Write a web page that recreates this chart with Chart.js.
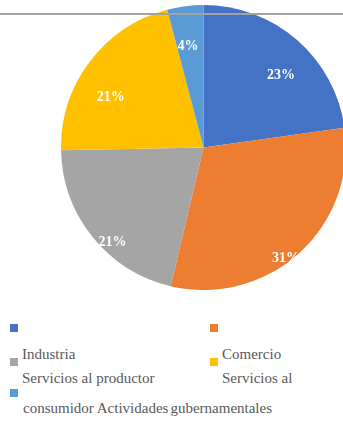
<!DOCTYPE html>
<html>
<head>
<meta charset="utf-8">
<script src="https://cdn.jsdelivr.net/npm/chart.js@4"></script>
<style>
  html, body { margin: 0; padding: 0; background: #fff; }
  body { width: 343px; height: 421px; overflow: hidden; position: relative; font-family: "Liberation Serif", "Times New Roman", serif; }
  #wrap { position: absolute; left: 61px; top: 5px; width: 285px; height: 285px; }
  #rule { position: absolute; left: 0; top: 12.5px; width: 343px; height: 2.5px; background: #a3a3a3; }
  .sw { position: absolute; width: 8px; height: 8px; }
  .tx { position: absolute; font-size: 15px; line-height: 15px; color: #595959; white-space: nowrap; }
</style>
</head>
<body>
<div id="wrap"><canvas id="c" width="285" height="285"></canvas></div>
<div id="rule"></div>
<div id="legend"></div>
<script>
const categories = ["Industria", "Comercio", "Servicios al productor", "Servicios al consumidor", "Actividades gubernamentales"];
const values = [22.8, 30.9, 21.0, 21.2, 4.1];
const percentLabels = ["23%", "31%", "21%", "21%", "4%"];

const colors = ["#4472C4", "#ED7D31", "#A5A5A5", "#FFC000", "#5B9BD5"];
// label placement tweaks (angle offset in degrees, radius fraction)
const labelAngleOffset = [5.9, 5.6, -7.2, -8.7, -1.3];
const labelRadiusFrac = [0.745, 0.97, 0.92, 0.74, 0.72];
const LABEL_FONT = 'bold 14px "Liberation Serif"';

const labelPlugin = {
  id: 'pctLabels',
  afterDatasetsDraw(chart) {
    const ctx = chart.ctx;
    const meta = chart.getDatasetMeta(0);
    ctx.save();
    ctx.font = LABEL_FONT;
    ctx.fillStyle = '#ffffff';
    ctx.textAlign = 'center';
    ctx.textBaseline = 'middle';
    meta.data.forEach((arc, i) => {
      const p = arc.getProps(['x', 'y', 'startAngle', 'endAngle', 'outerRadius'], true);
      const mid = (p.startAngle + p.endAngle) / 2 + labelAngleOffset[i] * Math.PI / 180;
      const r = p.outerRadius * labelRadiusFrac[i];
      ctx.fillText(percentLabels[i], p.x + Math.cos(mid) * r, p.y + Math.sin(mid) * r);
    });
    ctx.restore();
  }
};

function drawChart() {
  new Chart(document.getElementById('c'), {
    type: 'pie',
    data: {
      labels: categories,
      datasets: [{ data: values, backgroundColor: colors, borderWidth: 0 }]
    },
    options: {
      responsive: false,
      animation: false,
      devicePixelRatio: 1,
      layout: { padding: 0 },
      plugins: { legend: { display: false }, tooltip: { enabled: false } }
    },
    plugins: [labelPlugin]
  });
}
if (document.fonts && document.fonts.load) {
  document.fonts.load(LABEL_FONT).then(drawChart, drawChart);
} else {
  drawChart();
}

// Legend (reproducing the original's wrapped layout)
const legend = document.getElementById('legend');
function sw(x, y, color) {
  const d = document.createElement('div');
  d.className = 'sw'; d.style.left = x + 'px'; d.style.top = y + 'px'; d.style.background = color;
  legend.appendChild(d);
}
function tx(x, y, html) {
  const d = document.createElement('div');
  d.className = 'tx'; d.style.left = x + 'px'; d.style.top = y + 'px'; d.innerHTML = html;
  legend.appendChild(d);
}
sw(10, 324, colors[0]);
sw(210, 324, colors[1]);
sw(10, 358, colors[2]);
sw(210, 358, colors[3]);
sw(10, 389, colors[4]);
const consWords = categories[3].split(' ');
tx(22, 346.5, categories[0]);
tx(222, 346.5, categories[1]);
tx(22, 370.5, categories[2]);
tx(222, 370.5, consWords.slice(0, 2).join(' '));
const govWords = categories[4].split(' ');
tx(23, 400.5, consWords[2] + ' ' + govWords[0] + '<span style="margin-left:2px">' + govWords[1] + '</span>');
</script>
</body>
</html>
